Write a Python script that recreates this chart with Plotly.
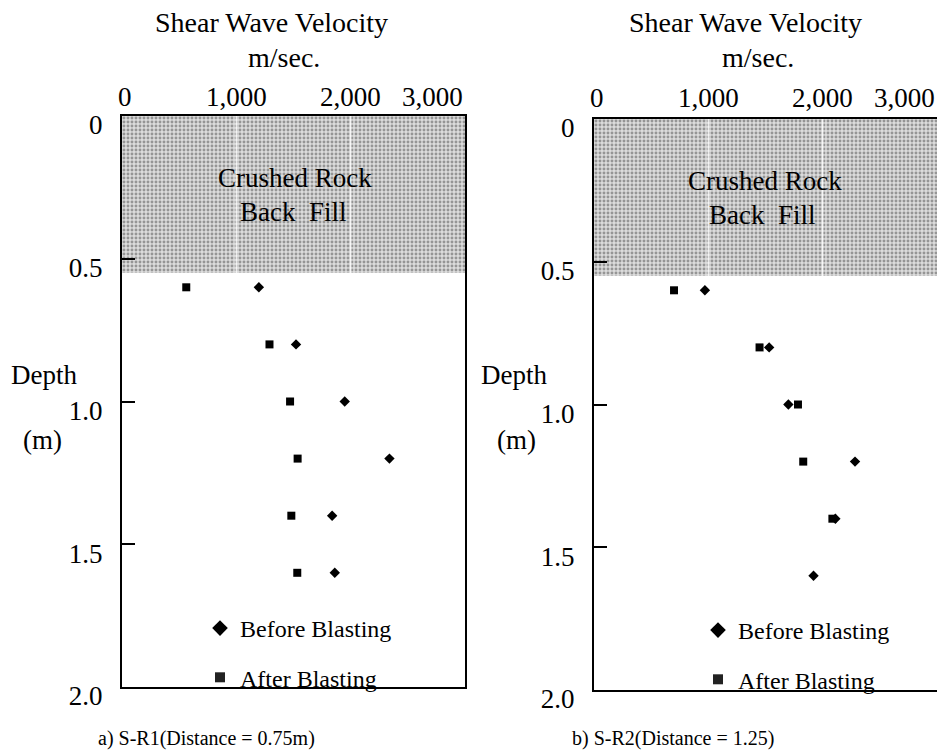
import plotly.graph_objects as go

# ---- data ----
depth = [0.6, 0.8, 1.0, 1.2, 1.4, 1.6]
r1_before = [1197, 1522, 1948, 2339, 1838, 1861]
r1_after = [562, 1290, 1470, 1536, 1481, 1533]
r2_before = [970, 1532, 1700, 2283, 2111, 1920]
r2_after = [700, 1448, 1784, 1830, 2085, None]

x_tickvals = [0, 1000, 2000, 3000]
x_ticktext = ["0", "1,000", "2,000", "3,000"]
y_tickvals = [0, 0.5, 1.0, 1.5, 2.0]
y_ticktext = ["0", "0.5", "1.0", "1.5", "2.0"]
backfill_depth = 0.55
x_max = 3000
y_max = 2.0

captions = ["a) S-R1(Distance = 0.75m)", "b) S-R2(Distance = 1.25)"]

FONT = "Liberation Serif"
PAGE_MARGIN = 8            # default body margin of the html page
W, H = 945 - PAGE_MARGIN, 756 - PAGE_MARGIN

def px(x):
    return (x - PAGE_MARGIN) / W

def py(y):
    return 1 - (y - PAGE_MARGIN) / H

fig = go.Figure()

panels = [
    dict(xa="x", ya="y", before=r1_before, after=r1_after, legend="legend",
         ticky=97),
    dict(xa="x2", ya="y2", before=r2_before, after=r2_after, legend="legend2",
         ticky=98),
]

for p in panels:
    # crushed rock back fill zone
    fig.add_trace(go.Scatter(
        x=[0, x_max, x_max, 0, 0],
        y=[0, 0, backfill_depth, backfill_depth, 0],
        xaxis=p["xa"], yaxis=p["ya"],
        mode="lines", line=dict(width=0), fill="toself",
        fillcolor="#d0d0d0",
        fillpattern=dict(shape=".", size=4, solidity=0.42,
                         fgcolor="#4d4d4d", bgcolor="#dcdcdc"),
        showlegend=False, hoverinfo="skip"))
    for gx in x_tickvals[1:-1]:
        fig.add_trace(go.Scatter(
            x=[gx, gx], y=[0, backfill_depth], xaxis=p["xa"], yaxis=p["ya"],
            mode="lines", line=dict(color="rgba(255,255,255,0.8)", width=1.5),
            showlegend=False, hoverinfo="skip"))
    fig.add_trace(go.Scatter(
        x=p["before"], y=depth, xaxis=p["xa"], yaxis=p["ya"], mode="markers",
        marker=dict(symbol="diamond", size=8, color="black"),
        showlegend=False))
    fig.add_trace(go.Scatter(
        x=p["after"], y=depth, xaxis=p["xa"], yaxis=p["ya"], mode="markers",
        marker=dict(symbol="square", size=8, color="black"),
        showlegend=False))
    # legend entries
    fig.add_trace(go.Scatter(
        x=[None], y=[None], xaxis=p["xa"], yaxis=p["ya"], mode="markers",
        marker=dict(symbol="diamond", size=12, color="black"),
        name="Before Blasting", legend=p["legend"], legendgroup="b" + p["legend"]))
    fig.add_trace(go.Scatter(
        x=[None], y=[None], xaxis=p["xa"], yaxis=p["ya"], mode="markers",
        marker=dict(symbol="square", size=10, color="#222"),
        name="After Blasting", legend=p["legend"], legendgroup="a" + p["legend"]))

xcommon = dict(range=[0, x_max], side="top", showgrid=False, zeroline=False,
               tickvals=x_tickvals, ticks="", showticklabels=False,
               showline=True, linecolor="black", linewidth=2, mirror=True,
               automargin=False)
ycommon = dict(range=[y_max, 0], showgrid=False, zeroline=False,
               tickvals=y_tickvals, ticktext=y_ticktext, ticks="inside",
               ticklen=13, tickwidth=1.5, tickcolor="black",
               tickfont=dict(family=FONT, size=27, color="black"),
               showline=True, linecolor="black", linewidth=2, mirror=True,
               ticklabelstandoff=12, ticklabelshift=-9,
               ticklabeloverflow="allow", automargin=False)

legcommon = dict(font=dict(family=FONT, size=24, color="black"),
                 bgcolor="rgba(0,0,0,0)", tracegroupgap=15,
                 xanchor="left", yanchor="top")

fig.update_layout(
    width=W, height=H,
    margin=dict(l=0, r=0, t=0, b=0, autoexpand=False),
    paper_bgcolor="white", plot_bgcolor="white",
    xaxis=dict(domain=[px(122), px(465)], anchor="y", **xcommon),
    yaxis=dict(domain=[py(687), py(116)], anchor="x", **ycommon),
    xaxis2=dict(domain=[px(594), px(937)], anchor="y2", **xcommon),
    yaxis2=dict(domain=[py(690), py(119)], anchor="x2", **ycommon),
    legend=dict(x=px(200), y=py(606), **legcommon),
    legend2=dict(x=px(698), y=py(608), **legcommon),
    showlegend=True,
)

ann = []
def text(x, y, s, size=28):
    ann.append(dict(x=px(x), y=py(y), xref="paper", yref="paper", text=s,
                    showarrow=False, xanchor="center", yanchor="middle",
                    font=dict(family=FONT, size=size, color="black")))

# x-axis tick labels (placed through each axis' own scale)
for p in panels:
    for i, (v, t) in enumerate(zip(x_tickvals, x_ticktext)):
        last = i == len(x_tickvals) - 1
        ann.append(dict(x=v, y=py(p["ticky"]), xref=p["xa"], yref="paper",
                        text=t, showarrow=False,
                        xanchor="right" if last else "center",
                        xshift=3 if i == 0 else 0,
                        yanchor="middle",
                        font=dict(family=FONT, size=27, color="black")))

for cx in (271, 745):
    text(cx, 23, "Shear Wave Velocity")
    text(cx + 13, 57, "m/sec.")
text(295, 178, "Crushed Rock", 27)
text(293, 212, "Back  Fill", 27)
text(765, 181, "Crushed Rock", 27)
text(762, 215, "Back  Fill", 27)
text(44, 375, "Depth", 27)
text(42, 440, "(m)", 27)
text(514, 375, "Depth", 27)
text(516, 440, "(m)", 27)
text(206, 738, captions[0], size=20)
text(673, 738, captions[1], size=20)
fig.update_layout(annotations=ann)

fig.write_html("out.html")
